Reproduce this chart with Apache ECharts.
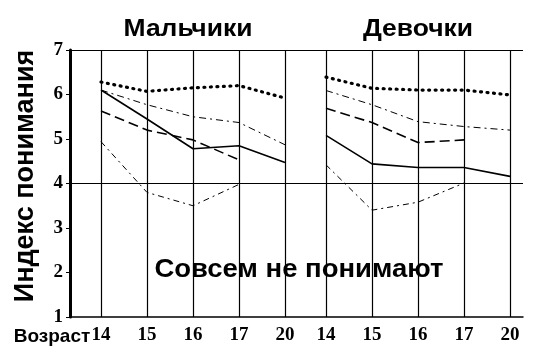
<!DOCTYPE html>
<html><head><meta charset="utf-8">
<script src="https://cdn.jsdelivr.net/npm/echarts@6/dist/echarts.min.js"></script>
<style>html,body{margin:0;padding:0;background:#fff}#c{width:536px;height:356px}</style>
</head><body><div id="c"></div>
<script>
const ages = ['14', '15', '16', '17', '20'];
const yMin = 1, yMax = 7;
// Мальчики
const boysDotted       = [6.28, 6.07, 6.15, 6.20, 5.92];
const boysSolid        = [6.10, 5.45, 4.78, 4.85, 4.47];
const boysDashDotUpper = [6.10, 5.77, 5.50, 5.37, 4.87];
const boysDashed       = [5.63, 5.20, 4.98, 4.53, null];
const boysDashDotLower = [4.94, 3.80, 3.50, 3.98, null];
// Девочки
const girlsDotted       = [6.39, 6.14, 6.10, 6.10, 5.99];
const girlsSolid        = [5.08, 4.44, 4.36, 4.36, 4.16];
const girlsDashDotUpper = [6.09, 5.77, 5.39, 5.28, 5.20];
const girlsDashed       = [5.69, 5.37, 4.92, 4.98, null];
const girlsDashDotLower = [4.42, 3.40, 3.58, 4.01, null];

const serif = '"Liberation Serif", "DejaVu Serif", serif';
const sans = '"Liberation Sans", Arial, sans-serif';
const st = {
  dotted: {width: 3.2, type: [1, 5.5], cap: 'round'},
  solid: {width: 1.6, type: 'solid'},
  dashDotUpper: {width: 1, type: [7, 4, 2, 4]},
  dashed: {width: 1.6, type: [10, 5]},
  dashDotLower: {width: 1, type: [6, 4, 2, 4]}
};
function mk(data, s, idx) {
  return {type: 'line', xAxisIndex: idx, yAxisIndex: idx, data: data, symbol: 'none',
    connectNulls: false, silent: true, lineStyle: Object.assign({color: '#000'}, s)};
}
const chart = echarts.init(document.getElementById('c'), null, {renderer: 'canvas'});
const catX = (i) => ({
  type: 'category', gridIndex: i, data: ages, boundaryGap: false,
  axisLine: {show: false}, axisTick: {show: false},
  axisLabel: {color: '#000', fontFamily: serif, fontWeight: 'bold', fontSize: 19, margin: 9},
  splitLine: {show: true, lineStyle: {color: '#000', width: 1.2}}
});
const hidY = (i) => ({type: 'value', gridIndex: i, min: yMin, max: yMax, show: false});
function txt(x, y, text, size, scaleX, rot) {
  return {type: 'text', x: x, y: y, scaleX: scaleX || 1, rotation: rot || 0,
    style: {text: text, x: 0, y: 0, align: 'center', verticalAlign: 'middle',
      font: 'bold ' + size + 'px ' + sans, fill: '#000'}};
}
chart.setOption({
  animation: false,
  grid: [
    {left: 70, right: 13, top: 50, bottom: 39},
    {left: 101, right: 251, top: 50, bottom: 39},
    {left: 326, right: 26, top: 50, bottom: 39}
  ],
  xAxis: [
    {type: 'value', gridIndex: 0, min: 0, max: 1, axisLine: {show: true, lineStyle: {color: '#000', width: 1.5}},
      axisTick: {show: false}, axisLabel: {show: false}, splitLine: {show: false}},
    catX(1), catX(2)
  ],
  yAxis: [
    {type: 'value', gridIndex: 0, min: yMin, max: yMax, interval: 1,
      axisLine: {show: true, lineStyle: {color: '#000', width: 3}},
      axisTick: {show: true, length: 4, lineStyle: {color: '#000'}},
      axisLabel: {color: '#000', fontFamily: serif, fontWeight: 'bold', fontSize: 19, margin: 7},
      splitLine: {show: true, lineStyle: {width: 1, color: ['rgba(0,0,0,0)', 'rgba(0,0,0,0)', 'rgba(0,0,0,0)', '#000', 'rgba(0,0,0,0)', 'rgba(0,0,0,0)', '#000']}}},
    hidY(1), hidY(2)
  ],
  series: [
    mk(boysDotted, st.dotted, 1), mk(boysSolid, st.solid, 1), mk(boysDashDotUpper, st.dashDotUpper, 1),
    mk(boysDashed, st.dashed, 1), mk(boysDashDotLower, st.dashDotLower, 1),
    mk(girlsDotted, st.dotted, 2), mk(girlsSolid, st.solid, 2), mk(girlsDashDotUpper, st.dashDotUpper, 2),
    mk(girlsDashed, st.dashed, 2), mk(girlsDashDotLower, st.dashDotLower, 2)
  ],
  graphic: [
    txt(188, 30, 'Мальчики', 23, 1.15),
    txt(418, 30, 'Девочки', 23, 1.15),
    txt(299, 270, 'Совсем не понимают', 25, 1.1),
    txt(52, 337, 'Возраст', 19, 1.0),
    txt(26, 176, 'Индекс понимания', 27, 1.0, Math.PI / 2)
  ]
});
</script></body></html>
